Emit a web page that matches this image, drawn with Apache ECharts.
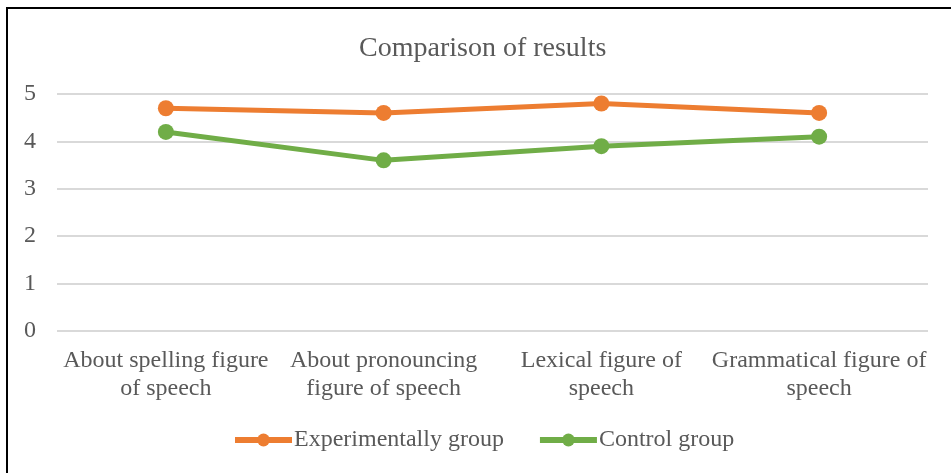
<!DOCTYPE html>
<html>
<head>
<meta charset="utf-8">
<script src="https://cdn.jsdelivr.net/npm/echarts@6/dist/echarts.min.js"></script>
<style>
  html, body { margin: 0; padding: 0; background: #fff; overflow: hidden; }
  #frame { position: absolute; left: 6px; top: 7px; width: 1000px; height: 500px; border: 2px solid #000; }
  #main { position: absolute; left: 0; top: 0; width: 951px; height: 473px; }
</style>
</head>
<body>
<div id="frame"></div>
<div id="main"></div>
<script>
// 数据
var categories = ['About spelling figure\nof speech', 'About pronouncing\nfigure of speech', 'Lexical figure of\nspeech', 'Grammatical figure of\nspeech'];
var experimental = [4.7, 4.6, 4.8, 4.6];
var control = [4.2, 3.6, 3.9, 4.1];
var yTicks = [0, 1, 2, 3, 4, 5];

(function () {
  var myChart = echarts.init(document.getElementById('main'));
  var font = 'Liberation Serif, Times New Roman, serif';
  var option = {
    backgroundColor: 'transparent',
    title: {
      text: 'Comparison of results',
      left: 354,
      top: 30,
      textStyle: { fontFamily: font, fontSize: 28, fontWeight: 'normal', color: '#595959' }
    },
    legend: {
      bottom: 16,
      left: 227,
      itemWidth: 57,
      itemHeight: 16,
      itemGap: 33,
      textStyle: { fontFamily: font, fontSize: 24, color: '#595959', padding: [0, 0, 0, -3] },
      lineStyle: { width: 6 },
      data: ['Experimentally group', 'Control group']
    },
    grid: { left: 57, right: 23, top: 94, bottom: 142 },
    xAxis: {
      type: 'category',
      data: categories,
      axisLine: { show: false },
      axisTick: { show: false },
      axisLabel: {
        fontFamily: font, fontSize: 24, color: '#595959',
        margin: 16, lineHeight: 28, interval: 0
      }
    },
    yAxis: {
      type: 'value',
      min: yTicks[0],
      max: yTicks[yTicks.length - 1],
      interval: 1,
      axisLine: { show: false },
      axisTick: { show: false },
      axisLabel: { fontFamily: font, fontSize: 24, color: '#595959', margin: 21 },
      splitLine: { lineStyle: { color: '#d9d9d9', width: 2 } }
    },
    series: [
      {
        name: 'Experimentally group',
        type: 'line',
        data: experimental,
        symbol: 'circle',
        symbolSize: 16,
        color: '#ED7D31',
        lineStyle: { width: 5 }
      },
      {
        name: 'Control group',
        type: 'line',
        data: control,
        symbol: 'circle',
        symbolSize: 16,
        color: '#70AD47',
        lineStyle: { width: 5 }
      }
    ]
  };
  myChart.setOption(option);
})();
</script>
</body>
</html>
